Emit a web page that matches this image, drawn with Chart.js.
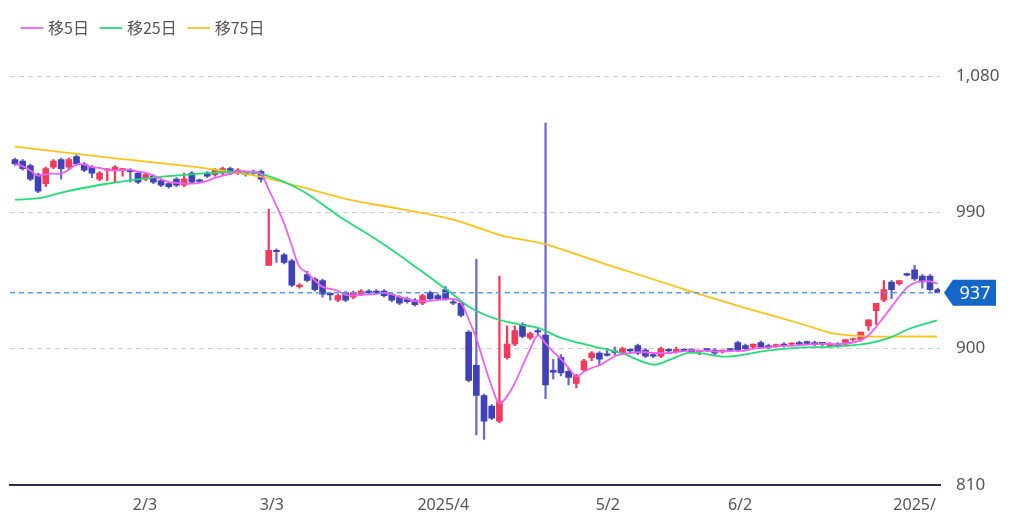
<!DOCTYPE html>
<html><head><meta charset="utf-8">
<script src="https://cdn.jsdelivr.net/npm/chart.js@4"></script>
<style>html,body{margin:0;padding:0;background:#fff}#w{width:1024px;height:532px}</style>
</head><body><div id="w"><canvas id="c"></canvas></div>
<script>
const opens=[1025,1024,1021,1015,1009,1020,1025,1020,1027,1022,1020,1012,1018,1018,1018,1018,1016,1012,1014,1011,1009,1012,1008,1016,1011,1016,1015,1016,1019,1016,1016,1017,1017,
955,965,962,958,941,949,946,945,936,932,937,934,936,937.5,938,938,936,934,933,932,930,937,935,
939,931,930,911,889,869,862,852,894,903,916,907,912,909,885,894,885,877,886,894,897,896,898,897,899,902,899,896,895,899,898,899,899.5,898,899.5,899,898,899.5,
904,902,901,904,902,902,903,903,904,904,904,903.5,902,903,903,906,906,915,925,932,944,943,949,952,948,948,939];
const highs=[1026,1025,1022,1016,1020,1025,1026,1026,1028,1023,1021,1017,1019,1021,1019,1019,1017,1016,1015,1012,1010,1013,1016,1017,1012,1017,1019,1020,1020,1019,1017,1018,1018,
992,966,963,959,943,951,947,946,937,936,938,938,939,939,939,939,937,935,934,933,936,938,936,
941,932,931,912,959,870,863,948,915,915,917,911,914,1049,893,896,887,883,893,898,898,900,901,901,900,903,900,897,901,900,901,900,900,899,900,900,899,900,
905,903,903,905,903,903,904,904,905,905,905,904,904,904,906,907,911,919,930,945,945,945,950,955,949,949,940];
const lows=[1021,1018,1011,1003,1007,1019,1012,1019,1021,1017,1013,1011,1011,1010,1014,1010,1009,1011,1009,1007,1006,1007,1007,1009,1010,1013,1014,1015,1015,1015,1014,1015,1010,
955,957,956,941,940,944,938,934,932,931,931,933,935,936,936,934,931,929,930,928,929,932,932,
932,929,921,878,843,840,853,851,893,902,907,906,909,867,880,882,876,874,885,892,889,895,896,896,897,896,894,894,894,898,897,898,897,896,898,896,897,898,
898,899,900,900,900,901,901,902,902,903,902,902,901,901,902,905,905,912,916,931,933,942,948,945,940,938,937];
const closes=[1022,1019,1012,1004,1019,1024,1019,1025,1022,1018,1016,1016,1018.8,1020,1019,1017,1010,1015,1010,1008,1007,1008,1012,1010,1010.5,1014,1018,1019,1016,1018,1015,1016,1012,
965,964,957,942,942,945,939,936,935.5,935,932,937,938,937,937,935,932,930,931,929,935,933,933,
933,930,922,879,869,852,854,865,903,912,908,910,911,876,884.5,884,881,882,892,897,893,895.5,897.5,900,898.5,897,895,895,900,898.5,899.5,898.5,897.5,898.5,899,897,898.5,899,
899,900,903,901,901,902,902,903,903,903.5,903,903,903,902,906,906,911,919,930,939,939,945,948.5,946,944,939,937];
const ma25X=[0,3.3,5.9,11.1,17.6,24.1,28.6,31.9,37.1,42.3,47.5,52.7,56.6,59.2,62.4,65.7,68.3,70.9,74.8,78.7,83,85.2,87.8,92.7,97.8,102.1,106.4,110.8,113.8,116.4,119.9];
const ma25Y=[998.3,999.6,1003,1008.3,1012.9,1015.6,1016.9,1015.6,1005,987,970.4,951.8,937.2,927.2,919.9,915.9,913.3,907.3,902,897.3,889.4,892.7,897.3,894.7,898.7,900.7,901.3,903.3,907.3,913.3,918.6];
const ma75X=[0,11.1,24.1,31.9,37.1,43.6,50.1,57.2,63.1,68.9,76.1,82.6,89.1,95.6,102.1,106.4,110.8,116.4,119.9];
const ma75Y=[1033.5,1026.9,1019.6,1013.6,1007,998.3,992.3,985,975,969,957,946.5,935.9,925.9,916.6,910,908,908,908];
const tickPos=[16.9,33.4,55.7,77.1,94.3,117];
const tickLabels=['2/3','3/3','2025/4','5/2','6/2','2025/'];
const yTicks=[810,900,990,1080];
const lastPrice=937;

const RED='#f23a5e', BLUE='#4040b8', BLUEW='#6a6acc';
const isUp=i=>closes[i]>=opens[i];
const wick=opens.map((o,i)=>({x:i,y:[lows[i],highs[i]]}));
const body=opens.map((o,i)=>({x:i,y:[Math.min(o,closes[i]),Math.max(o,closes[i])+(Math.abs(o-closes[i])<0.6?0.6:0)]}));
const ma5=closes.map((c,i)=>{const s=closes.slice(Math.max(0,i-4),i+1);return {x:i,y:s.reduce((a,b)=>a+b,0)/s.length};});

const pricePlugin={id:'price',afterDatasetsDraw(ch){
  const {ctx,chartArea:a,scales:{y}}=ch;const py=y.getPixelForValue(lastPrice);
  ctx.save();ctx.strokeStyle='#5a9be8';ctx.lineWidth=1.5;ctx.setLineDash([5,4]);
  ctx.beginPath();ctx.moveTo(a.left,py);ctx.lineTo(a.right,py);ctx.stroke();ctx.setLineDash([]);
  const x0=a.right+4,x1=x0+52,h=26;
  ctx.fillStyle='#1466c8';ctx.beginPath();ctx.moveTo(x0,py);ctx.lineTo(x0+9,py-h/2);ctx.lineTo(x1,py-h/2);ctx.lineTo(x1,py+h/2);ctx.lineTo(x0+9,py+h/2);ctx.closePath();ctx.fill();
  ctx.fillStyle='#fff';ctx.font='18px "Noto Sans",Roboto,sans-serif';ctx.textAlign='center';ctx.textBaseline='middle';
  ctx.fillText(String(lastPrice),x0+31,py+1);ctx.restore();}};

new Chart(document.getElementById('c'),{
  data:{datasets:[
    {type:'line',label:'移5日',data:ma5,borderColor:'#f060f0',backgroundColor:'#f060f0',borderWidth:1.8,pointRadius:0,tension:0.35,order:0},
    {type:'line',label:'移25日',data:ma25X.map((x,i)=>({x,y:ma25Y[i]})),borderColor:'#22dd77',backgroundColor:'#22dd77',borderWidth:1.8,pointRadius:0,tension:0.35,order:0},
    {type:'line',label:'移75日',data:ma75X.map((x,i)=>({x,y:ma75Y[i]})),borderColor:'#ffc21a',backgroundColor:'#ffc21a',borderWidth:1.8,pointRadius:0,tension:0.3,order:0},
    {type:'bar',label:'wick',data:wick,barThickness:1.6,grouped:false,backgroundColor:wick.map((d,i)=>isUp(i)?RED:BLUEW),order:2},
    {type:'bar',label:'body',data:body,barThickness:6,grouped:false,backgroundColor:body.map((d,i)=>isUp(i)?RED:BLUE),order:1}
  ]},
  options:{responsive:true,maintainAspectRatio:false,animation:false,
    layout:{padding:{left:10,top:6,right:0,bottom:14}},
    plugins:{tooltip:{enabled:false},
      legend:{position:'top',align:'start',labels:{usePointStyle:true,pointStyle:'line',boxWidth:20,padding:14,color:'#555',font:{size:16,family:'"Noto Sans CJK JP","Noto Sans",sans-serif'},filter:it=>it.text.startsWith('移')}}},
    scales:{
      x:{type:'linear',offset:false,min:-0.65,max:120.3,grid:{display:false},border:{color:'#2a2f45',width:2},
        afterBuildTicks:s=>{s.ticks=tickPos.map(v=>({value:v}));},
        ticks:{autoSkip:false,maxRotation:0,color:'#555',font:{size:16,family:'"Noto Sans",sans-serif'},callback:(v,i)=>tickLabels[i]}},
      y:{position:'right',min:810,max:1100,border:{display:false,dash:[5,4]},
        afterBuildTicks:s=>{s.ticks=yTicks.map(v=>({value:v}));},
        afterFit:s=>{s.width=84;},
        grid:{color:c=>c.tick&&c.tick.value===810?'rgba(0,0,0,0)':'#d0d0d0',drawTicks:false},
        ticks:{padding:16,color:'#555',font:{size:17,family:'"Noto Sans",sans-serif'},callback:v=>v.toLocaleString('en-US')}}
    }},
  plugins:[pricePlugin]
});
</script></body></html>
